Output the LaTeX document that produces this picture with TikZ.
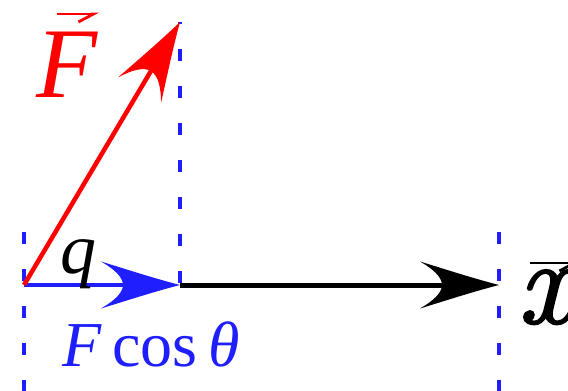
\documentclass[tikz,border=0pt]{standalone}
\usepackage{fontspec}
\setmainfont{Liberation Serif}
\newfontfamily\lmfont[FakeBold=2]{Latin Modern Roman}
\usetikzlibrary{arrows.meta}
\definecolor{vblue}{RGB}{30,30,255}
\tikzset{
  guide/.style={vblue, line width=4.5pt, dash pattern=on 12pt off 25pt},
  vecbar/.style={line width=2.8pt, -{Straight Barb[right,length=15pt,width=16pt]}},
  lab/.style={inner sep=0pt, anchor=base west},
  curvyhead/.pic={
    \fill (0,0) .. controls (-27,7) and (-53,15.5) .. (-79,23.5)
               .. controls (-66,16) and (-57,8) .. (-57,0)
               .. controls (-57,-8) and (-66,-16) .. (-79,-23.5)
               .. controls (-53,-15.5) and (-27,-7) .. (0,0) -- cycle;
  }
}
\begin{document}
\begin{tikzpicture}[x=1pt,y=1pt]
\useasboundingbox (0,0) rectangle (568,-391);
% points
\coordinate (O) at (24,-285);
\coordinate (T) at (180,-22);
\coordinate (P) at (180,-285);
\coordinate (X) at (499,-285);
\coordinate (g1t) at (24,-232);
\coordinate (g1b) at (24,-391);
\coordinate (g3t) at (499,-232);
\coordinate (g3b) at (499,-391);
% dashed guides
\draw[guide] (g1t) -- (g1b);
\draw[guide, dash phase=10pt] (T) -- (P);
\draw[guide] (g3t) -- (g3b);
% vectors
\draw[black, line width=5pt, shorten >=45pt] (P) -- (X);
\path (X) pic[black] {curvyhead};
\draw[vblue, line width=4.5pt, shorten >=45pt] (O) -- (P);
\path (P) pic[vblue] {curvyhead};
\draw[red, line width=4.5pt, shorten >=45pt] (O) -- (T);
\path (T) pic[red, rotate=59.33, yscale=1.06] {curvyhead};
% labels
\node[lab, red, font=\fontsize{100}{100}\selectfont\itshape] (Fl) at (36,-97) {F};
\coordinate (Fa1) at (57,-14);
\coordinate (Fa2) at (99,-14);
\draw[red, vecbar] (Fa1) -- (Fa2);
\node[lab, font=\fontsize{72}{72}\selectfont\itshape] (ql) at (60,-273) {q};
\node[lab, vblue, font=\fontsize{64}{64}\selectfont] (fc) at (62,-366) {\textit{F}\,cos\,\textit{θ}};
\node[lab, font=\lmfont\fontsize{120}{120}\selectfont\itshape] (xl) at (518,-323) {x};
\coordinate (xa1) at (530,-263);
\coordinate (xa2) at (580,-263);
\draw[black, vecbar] (xa1) -- (xa2);
\end{tikzpicture}
\end{document}
